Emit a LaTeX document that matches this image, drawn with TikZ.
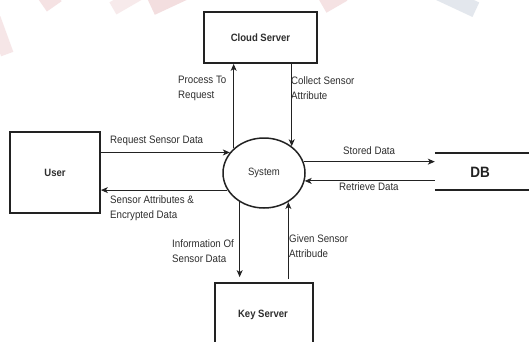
\documentclass[tikz,border=0pt]{standalone}
\usepackage{fontspec}
\setmainfont{Liberation Sans}[FakeStretch=0.9]
\usetikzlibrary{shapes.geometric,arrows.meta}
\definecolor{ink}{HTML}{222222}
\definecolor{txt}{HTML}{2E2E2E}
\definecolor{wmpink}{HTML}{F1D6D8}
\definecolor{wmblue}{HTML}{DCE2E9}
\tikzset{
  entity/.style={draw=ink,line width=1.8pt,minimum width=#1,inner sep=0pt,
    font=\fontsize{10.6}{12}\selectfont\bfseries,text=txt},
  process/.style={draw=ink,line width=1.5pt,ellipse,minimum width=82pt,minimum height=70pt,
    inner sep=0pt,font=\fontsize{10.6}{12}\selectfont,text=txt},
  flow/.style={draw=ink,line width=0.9pt,-{Stealth[length=7pt,width=6pt,inset=2pt]}},
  lbl/.style={align=left,anchor=north west,inner sep=0pt,text=txt,
    font=\fontsize{10.8}{15}\selectfont},
  wm/.style={fill=wmpink,draw=none}
}
\begin{document}
\begin{tikzpicture}[x=1pt,y=-1pt]
\useasboundingbox (0,0) rectangle (529,341);
\clip (0,0) rectangle (529,341);
\fill[white] (0,0) rectangle (529,341);

% faint background marks along the top edge
\fill[wm,opacity=0.7,rotate around={35:(50,2)}] (42,-6) rectangle (60,8);
\fill[wm,opacity=0.5,rotate around={30:(130,2)}] (112,-8) rectangle (150,6);
\fill[wm,opacity=0.8,rotate around={25:(170,0)}] (150,-10) rectangle (195,7);
\fill[wm,opacity=0.7,rotate around={30:(333,2)}] (322,-8) rectangle (346,8);
\fill[wm,opacity=0.6,rotate around={20:(4,35)}] (-6,16) rectangle (7,54);
\fill[wmblue,opacity=0.8,rotate around={-25:(455,0)}] (432,-8) rectangle (478,8);

% entities and the process
\node[entity=113pt,minimum height=51pt] (cloud) at (260.5,37.5) {Cloud Server};
\node[entity=90pt,minimum height=81pt] (user) at (55,172.5) {User};
\node[entity=98pt,minimum height=80pt] (key) at (264,323) {};
\node[text=txt,font=\fontsize{10.6}{12}\selectfont\bfseries] (keylbl) at (263,315) {Key Server};
\node[process] (sys) at (264,173) {System};

% data store: open rectangle
\node[minimum width=100pt,minimum height=37pt,inner sep=0pt] (db) at (485,171.5) {};
\draw[ink,line width=1.8pt] (db.north west) -- (db.north east);
\draw[ink,line width=1.8pt] (db.south west) -- (db.south east);
\node[text=ink,font=\fontsize{15}{17}\selectfont\bfseries] (dblbl) at (480,172) {DB};

% flows
\draw[flow] (sys.141) -- (sys.141 |- cloud.south);
\draw[flow] (sys.44 |- cloud.south) -- (sys.44);
\draw[flow] (sys.149 -| user.east) -- (sys.149);
\draw[flow] (sys.205) -- (sys.205 -| user.east);
\draw[flow] (sys.16) -- (sys.16 -| db.west);
\draw[flow] (sys.349 -| db.west) -- (sys.349);
\draw[flow,shorten >=5pt] (sys.230) -- (sys.230 |- key.north);
\draw[flow,shorten <=3pt] (sys.310 |- key.north) -- (sys.310);

% flow labels
\node[lbl] (l1) at (178,76) {Process To\\Request};
\node[lbl] (l2) at (291,76) {Collect Sensor\\Attribute};
\node[lbl] (l3) at (110,136) {Request Sensor Data};
\node[lbl] (l4) at (110,195) {Sensor Attributes \&\\Encrypted Data};
\node[lbl] (l5) at (343,146) {Stored Data};
\node[lbl] (l6) at (339,182) {Retrieve Data};
\node[lbl] (l7) at (172,239) {Information Of\\Sensor Data};
\node[lbl] (l8) at (289,234) {Given Sensor\\Attribude};
\end{tikzpicture}
\end{document}
